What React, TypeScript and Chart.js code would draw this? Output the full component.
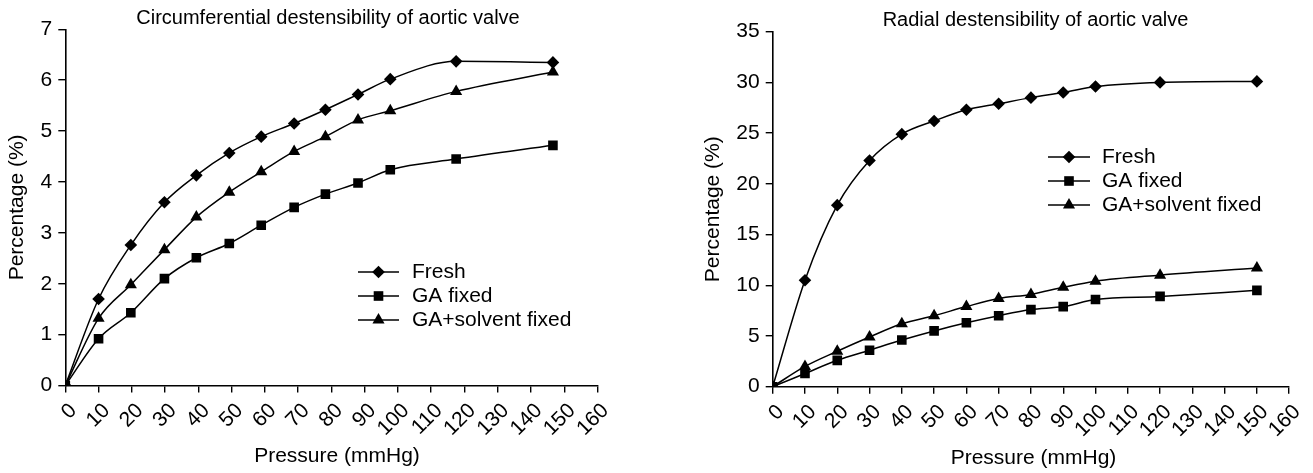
import React, { useEffect, useRef } from "react";
import { Chart, registerables } from "chart.js";

Chart.register(...registerables);

// ---------- data ----------
const seriesNames = ["Fresh", "GA fixed", "GA+solvent fixed"];

const circPressure = [0, 10, 19.7, 29.8, 39.4, 49.3, 58.9, 68.8, 78.2, 88, 97.7, 117.5, 146.6];
const circFresh = [0, 1.7, 2.76, 3.6, 4.13, 4.57, 4.89, 5.15, 5.42, 5.72, 6.02, 6.37, 6.35];
const circGA = [0, 0.92, 1.43, 2.1, 2.51, 2.79, 3.15, 3.5, 3.76, 3.98, 4.24, 4.45, 4.72];
const circSolvent = [0, 1.32, 1.98, 2.67, 3.31, 3.8, 4.2, 4.6, 4.89, 5.22, 5.4, 5.78, 6.16];

const radPressure = [0, 10, 20, 30, 40, 50, 60, 70, 80, 90, 100, 120, 150];
const radFresh = [0, 10.5, 17.9, 22.3, 24.9, 26.2, 27.3, 27.9, 28.5, 29.0, 29.6, 30.0, 30.1];
const radGA = [0, 1.3, 2.6, 3.6, 4.6, 5.5, 6.3, 7.0, 7.6, 7.9, 8.6, 8.9, 9.5];
const radSolvent = [0, 2.0, 3.5, 4.9, 6.2, 7.0, 7.9, 8.7, 9.1, 9.8, 10.4, 11.0, 11.7];

const xTickMin = 0;
const xTickMax = 160;
const xTickStep = 10;
const circYMax = 7;
const circYStep = 1;
const radYMax = 35;
const radYStep = 5;

const circTitle = "Circumferential destensibility of aortic valve";
const radTitle = "Radial destensibility of aortic valve";
const xTitle = "Pressure (mmHg)";
const yTitle = "Percentage (%)";

// ---------- styles ----------
const FONT = '"Liberation Sans", Arial, Helvetica, sans-serif';
const shapes = ["rectRot", "rect", "triangle"];
const radii = [6.3, 6.8, 7];

function markerPath(ctx: CanvasRenderingContext2D, shape: string, x: number, y: number, r: number) {
  ctx.beginPath();
  if (shape === "rectRot") {
    ctx.moveTo(x - r, y);
    ctx.lineTo(x, y - r);
    ctx.lineTo(x + r, y);
    ctx.lineTo(x, y + r);
  } else if (shape === "rect") {
    const s = r * Math.SQRT1_2;
    ctx.rect(x - s, y - s, 2 * s, 2 * s);
  } else {
    const a = Math.PI / 2;
    for (let k = 0; k < 3; k++) {
      const ang = -a + (k * 2 * Math.PI) / 3;
      const px = x + Math.cos(ang) * r;
      const py = y + Math.sin(ang) * r;
      if (k === 0) ctx.moveTo(px, py);
      else ctx.lineTo(px, py);
    }
  }
  ctx.closePath();
  ctx.fill();
}

const overlayPlugin = {
  id: "overlay",
  afterDraw(chart: any, _args: any, opts: any) {
    const ctx: CanvasRenderingContext2D = chart.ctx;
    ctx.save();
    ctx.fillStyle = "#000";
    ctx.strokeStyle = "#000";
    ctx.textBaseline = "middle";
    ctx.textAlign = "center";
    ctx.font = `${opts.titleSize}px ${FONT}`;
    ctx.fillText(opts.title, opts.titleX, opts.titleY);
    ctx.font = `${opts.axisSize}px ${FONT}`;
    ctx.fillText(opts.xTitle, opts.xTitleX, opts.xTitleY);
    // legend
    ctx.font = `${opts.legendSize}px ${FONT}`;
    ctx.textAlign = "left";
    chart.data.datasets.forEach((ds: any, i: number) => {
      const y = opts.legendY + i * opts.legendGap;
      ctx.lineWidth = ds.borderWidth;
      ctx.beginPath();
      ctx.moveTo(opts.legendX, y);
      ctx.lineTo(opts.legendX + opts.legendLine, y);
      ctx.stroke();
      markerPath(ctx, shapes[i], opts.legendX + opts.legendLine / 2, y, radii[i]);
      ctx.fillText(ds.label, opts.legendTextX, y);
    });
    ctx.restore();
  },
};

type Cfg = {
  width: number;
  height: number;
  xs: number[];
  series: number[][];
  yMax: number;
  yStep: number;
  area: { left: number; right: number; top: number; bottom: number };
  overlay: any;
  yTitlePad: number;
};

function LineChart({ cfg }: { cfg: Cfg }) {
  const ref = useRef<HTMLCanvasElement | null>(null);
  useEffect(() => {
    if (!ref.current) return;
    const { area } = cfg;
    const chart = new Chart(ref.current, {
      type: "line",
      data: {
        datasets: cfg.series.map((vals, i) => ({
          label: seriesNames[i],
          data: vals.map((v, j) => ({ x: cfg.xs[j], y: v })),
          borderColor: "#000",
          backgroundColor: "#000",
          borderWidth: 1.5,
          pointStyle: shapes[i] as any,
          pointRadius: radii[i],
          pointBorderWidth: 0,
          pointBackgroundColor: "#000",
          cubicInterpolationMode: "monotone",
          fill: false,
        })),
      },
      options: {
        responsive: false,
        animation: false,
        devicePixelRatio: 1,
        layout: {
          padding: {
            top: area.top,
            left: 0,
            right: cfg.width - area.right,
            bottom: 0,
          },
        },
        plugins: {
          legend: { display: false },
          title: { display: false },
          tooltip: { enabled: false },
          overlay: cfg.overlay,
        } as any,
        scales: {
          x: {
            type: "linear",
            min: xTickMin,
            max: xTickMax,
            afterFit: (s: any) => {
              s.height = cfg.height - area.bottom;
            },
            ticks: {
              stepSize: xTickStep,
              autoSkip: false,
              maxRotation: 45,
              minRotation: 45,
              padding: 6,
              labelOffset: 8,
              color: "#000",
              font: { family: FONT, size: 21 },
            },
            grid: {
              drawOnChartArea: false,
              drawTicks: true,
              tickLength: 7,
              color: "#000",
              lineWidth: 1.4,
            },
            border: { display: true, color: "#000", width: 1.6 },
          },
          y: {
            type: "linear",
            min: 0,
            max: cfg.yMax,
            afterFit: (s: any) => {
              s.width = area.left;
            },
            ticks: {
              stepSize: cfg.yStep,
              padding: 6,
              color: "#000",
              font: { family: FONT, size: 21 },
            },
            grid: {
              drawOnChartArea: false,
              drawTicks: true,
              tickLength: 7,
              color: "#000",
              lineWidth: 1.4,
            },
            border: { display: true, color: "#000", width: 1.6 },
            title: {
              display: true,
              text: yTitle,
              color: "#000",
              font: { family: FONT, size: 21 },
              padding: { top: cfg.yTitlePad, bottom: 0 },
            },
          },
        },
      },
      plugins: [overlayPlugin as any],
    });
    return () => chart.destroy();
  }, [cfg]);
  return <canvas ref={ref} width={cfg.width} height={cfg.height} style={{ display: "block" }} />;
}

const leftCfg: Cfg = {
  width: 660,
  height: 473,
  xs: circPressure,
  series: [circFresh, circGA, circSolvent],
  yMax: circYMax,
  yStep: circYStep,
  area: { left: 65.3, right: 597.5, top: 29.3, bottom: 385.5 },
  yTitlePad: 5,
  overlay: {
    title: circTitle,
    titleX: 328,
    titleY: 18,
    titleSize: 20,
    xTitle: xTitle,
    xTitleX: 337,
    xTitleY: 456,
    axisSize: 21,
    legendSize: 21,
    legendX: 358,
    legendLine: 41,
    legendTextX: 412,
    legendY: 272,
    legendGap: 24,
  },
};

const rightCfg: Cfg = {
  width: 653,
  height: 473,
  xs: radPressure,
  series: [radFresh, radGA, radSolvent],
  yMax: radYMax,
  yStep: radYStep,
  area: { left: 112.7, right: 632.7, top: 31.7, bottom: 386.7 },
  yTitlePad: 41,
  overlay: {
    title: radTitle,
    titleX: 375.5,
    titleY: 20,
    titleSize: 20,
    xTitle: xTitle,
    xTitleX: 373.5,
    xTitleY: 458,
    axisSize: 21,
    legendSize: 21,
    legendX: 388,
    legendLine: 42,
    legendTextX: 442,
    legendY: 157,
    legendGap: 24,
  },
};

export default function App() {
  return (
    <div
      style={{
        position: "absolute",
        left: 0,
        top: 0,
        width: 1313,
        height: 473,
        background: "#fff",
        display: "flex",
      }}
    >
      <LineChart cfg={leftCfg} />
      <LineChart cfg={rightCfg} />
    </div>
  );
}
